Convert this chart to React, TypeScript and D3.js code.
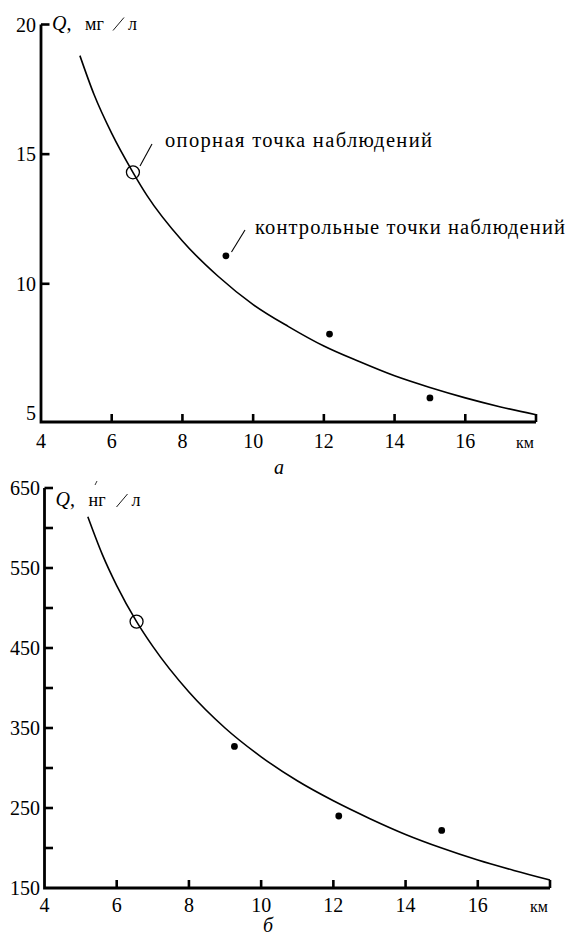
import React from 'react';
import * as d3 from 'd3';

// ---------- data ----------
const xTicks = [4, 6, 8, 10, 12, 14, 16];
const xEnd = 18;

const topYLabels = [20, 15, 10, 5];
const topYTickMarks = [20, 15, 10];
const topCurveX = [5.1, 5.5, 6, 6.6, 7, 8, 9, 10, 11, 12, 13, 14, 15, 16, 17, 18];
const topCurveQ = [18.8, 17.3, 15.8, 14.3, 13.4, 11.65, 10.3, 9.2, 8.35, 7.6, 7.0, 6.45, 6.0, 5.6, 5.25, 4.95];
const topRefX = 6.6;
const topRefQ = 14.3;
const topCtrlX = [9.23, 12.16, 15.0];
const topCtrlQ = [11.08, 8.06, 5.6];

const bottomYLabels = [650, 550, 450, 350, 250, 150];
const bottomYTickMarks = [650, 600, 550, 500, 450, 400, 350, 300, 250, 200];
const bottomCurveX = [5.2, 5.6, 6, 6.55, 7, 8, 9, 10, 11, 12, 13, 14, 15, 16, 17, 18];
const bottomCurveQ = [614, 567, 528, 483, 452, 395, 350, 314, 284, 259, 237, 217, 200, 185, 172, 160];
const bottomRefX = 6.55;
const bottomRefQ = 483;
const bottomCtrlX = [9.26, 12.15, 15.0];
const bottomCtrlQ = [327, 240, 222];

const FONT = "'Liberation Serif', 'Times New Roman', 'DejaVu Serif', serif";
const fs = (size: number, italic = false) => ({ fontFamily: FONT, fontSize: size + 'px', fontStyle: italic ? 'italic' : 'normal' });

type PanelProps = {
  x0: number; x1: number; yTop: number; yBottom: number;
  yDomain: [number, number];
  yLabels: number[]; yTickMarks: number[];
  curveX: number[]; curveQ: number[];
  refX: number; refQ: number;
  ctrlX: number[]; ctrlQ: number[];
  unit: string; letter: string; letterX: number; letterY: number;
  xLabelY: number; kmX: number;
  labelRight: number; titleDy: number;
};

function Panel(p: PanelProps) {
  const x = d3.scaleLinear().domain([4, xEnd]).range([p.x0, p.x1]);
  const y = d3.scaleLinear().domain(p.yDomain).range([p.yBottom, p.yTop]);
  const axisY = p.yBottom;
  const topVal = p.yDomain[1];
  const line = d3.line<number>()
    .x((_, i) => x(p.curveX[i]))
    .y((d) => y(d))
    .curve(d3.curveMonotoneX);
  const ax = p.x0;
  const ty = y(topVal) + p.titleDy;
  return (
    <g>
      {/* axes */}
      <path d={`M${ax},${y(topVal)} V${axisY} H${p.x1}`} fill="none" stroke="#000" strokeWidth={2.8} />
      {p.yTickMarks.map((t) => (
        <line key={'yt' + t} x1={ax} x2={ax + 8.5} y1={y(t)} y2={y(t)} stroke="#000" strokeWidth={2.6} />
      ))}
      {[...xTicks.slice(1), xEnd].map((t) => (
        <line key={'xt' + t} x1={x(t)} x2={x(t)} y1={axisY} y2={axisY - 8} stroke="#000" strokeWidth={2.6} />
      ))}
      {p.yLabels.map((t) => (
        <text key={'yl' + t} x={p.labelRight} y={y(t) + 7} textAnchor="end" style={fs(20)}>{t}</text>
      ))}
      {xTicks.map((t) => (
        <text key={'xl' + t} x={x(t)} y={p.xLabelY} textAnchor="middle" style={fs(20)}>{t}</text>
      ))}
      <text x={p.kmX} y={p.xLabelY} textAnchor="middle" style={fs(16)}>км</text>
      <text x={p.letterX} y={p.letterY} textAnchor="middle" style={fs(20, true)}>{p.letter}</text>
      {/* axis title */}
      <text x={ax + 11} y={ty} style={fs(20)}>
        <tspan style={{ fontStyle: 'italic' }}>Q</tspan><tspan>,</tspan>
      </text>
      <text x={ax + 44} y={ty} style={fs(18)}>{p.unit}</text>
      <line x1={ax + 72} y1={ty + 1} x2={ax + 83} y2={ty - 12} stroke="#000" strokeWidth={0.9} />
      <text x={ax + 87} y={ty} style={fs(18)}>л</text>
      {/* curve */}
      <path d={line(p.curveQ) || ''} fill="none" stroke="#000" strokeWidth={1.6} />
      {/* reference point */}
      <circle cx={x(p.refX)} cy={y(p.refQ)} r={6.5} fill="none" stroke="#000" strokeWidth={1.3} />
      {/* control points */}
      {p.ctrlX.map((cx, i) => (
        <circle key={'c' + i} cx={x(cx)} cy={y(p.ctrlQ[i])} r={3.4} fill="#000" />
      ))}
    </g>
  );
}

export default function App() {
  return (
    <svg width={574} height={937} style={{ position: 'absolute', left: 0, top: 0, background: '#fff' }}>
      <rect width={574} height={937} fill="#fff" />
      <Panel
        x0={41} x1={536} yTop={24.5} yBottom={422}
        yDomain={[4.67, 20]}
        yLabels={topYLabels} yTickMarks={topYTickMarks}
        curveX={topCurveX} curveQ={topCurveQ}
        refX={topRefX} refQ={topRefQ}
        ctrlX={topCtrlX} ctrlQ={topCtrlQ}
        unit="мг" letter="а" letterX={279} letterY={474}
        xLabelY={448} kmX={525} labelRight={36} titleDy={5}
      />
      {/* annotations (top panel) */}
      <line x1={140} y1={166} x2={152} y2={144} stroke="#000" strokeWidth={1.1} />
      <text x={165} y={147} style={fs(20.5)} textLength={267} lengthAdjust="spacing">опорная точка наблюдений</text>
      <line x1={231.5} y1={252} x2={245} y2={230} stroke="#000" strokeWidth={1.1} />
      <text x={255} y={234} style={fs(20.5)} textLength={310} lengthAdjust="spacing">контрольные точки наблюдений</text>

      <Panel
        x0={44.5} x1={550} yTop={488} yBottom={888}
        yDomain={[150, 650]}
        yLabels={bottomYLabels} yTickMarks={bottomYTickMarks}
        curveX={bottomCurveX} curveQ={bottomCurveQ}
        refX={bottomRefX} refQ={bottomRefQ}
        ctrlX={bottomCtrlX} ctrlQ={bottomCtrlQ}
        unit="нг" letter="б" letterX={268} letterY={932}
        xLabelY={912} kmX={539} labelRight={40} titleDy={18}
      />
      <line x1={95} y1={485} x2={97} y2={481} stroke="#000" strokeWidth={0.8} />
    </svg>
  );
}
